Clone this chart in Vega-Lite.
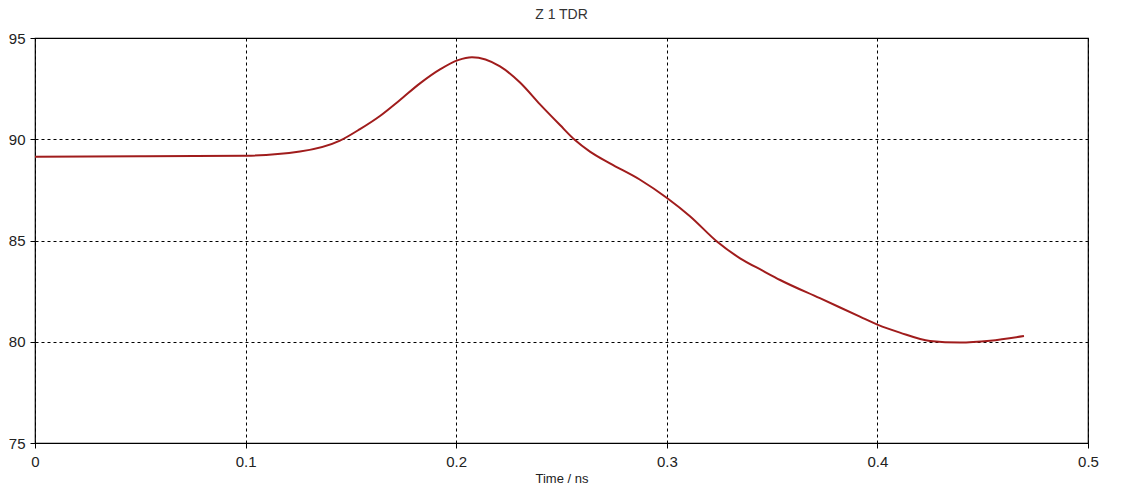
{
  "$schema": "https://vega.github.io/schema/vega-lite/v6.json",
  "autosize": {"type": "none"},
  "width": 1053,
  "height": 405,
  "padding": {"left": 35, "top": 38, "right": 33, "bottom": 43},
  "background": "white",
  "title": {"text": "Z 1 TDR", "fontSize": 14, "font": "Liberation Sans", "fontWeight": "normal", "color": "#333333", "offset": 9, "anchor": "middle"},
  "config": {
    "view": {"stroke": "black", "strokeWidth": 1.2},
    "axis": {"labelFont": "Liberation Sans", "labelFontSize": 15, "labelColor": "#222222", "titleFont": "Liberation Sans", "titleFontSize": 13, "titleFontWeight": "normal", "titleColor": "#222222", "grid": true, "gridColor": "black", "gridDash": [3, 3], "gridWidth": 1, "gridOpacity": 1, "domain": false, "tickColor": "black", "tickSize": 5, "labelPadding": 4}
  },
  "data": {"values": [
    {"t": 0.0, "z": 89.13},
    {"t": 0.05, "z": 89.16},
    {"t": 0.1002, "z": 89.19},
    {"t": 0.1258, "z": 89.39},
    {"t": 0.1448, "z": 89.93},
    {"t": 0.1543, "z": 90.5},
    {"t": 0.1638, "z": 91.15},
    {"t": 0.1733, "z": 91.94},
    {"t": 0.1828, "z": 92.76},
    {"t": 0.1923, "z": 93.45},
    {"t": 0.2009, "z": 93.91},
    {"t": 0.2075, "z": 94.05},
    {"t": 0.2208, "z": 93.6},
    {"t": 0.2303, "z": 92.8},
    {"t": 0.2398, "z": 91.72},
    {"t": 0.2493, "z": 90.7},
    {"t": 0.2564, "z": 89.96},
    {"t": 0.2635, "z": 89.39},
    {"t": 0.273, "z": 88.81},
    {"t": 0.2873, "z": 88.0},
    {"t": 0.3001, "z": 87.1},
    {"t": 0.311, "z": 86.2},
    {"t": 0.3238, "z": 84.95},
    {"t": 0.3348, "z": 84.12},
    {"t": 0.3457, "z": 83.5},
    {"t": 0.3538, "z": 83.05},
    {"t": 0.3727, "z": 82.15},
    {"t": 0.3917, "z": 81.24},
    {"t": 0.4003, "z": 80.83},
    {"t": 0.4107, "z": 80.45},
    {"t": 0.425, "z": 80.04},
    {"t": 0.4392, "z": 79.96},
    {"t": 0.4535, "z": 80.05},
    {"t": 0.4696, "z": 80.28}
  ]},
  "mark": {"type": "line", "color": "#a01c1c", "strokeWidth": 2, "interpolate": "monotone"},
  "encoding": {
    "x": {"field": "t", "type": "quantitative", "scale": {"domain": [0, 0.5], "nice": false}, "axis": {"title": "Time / ns", "values": [0, 0.1, 0.2, 0.3, 0.4, 0.5], "format": "~g", "labelPadding": 6, "titlePadding": 3, "labelFlush": false}},
    "y": {"field": "z", "type": "quantitative", "scale": {"domain": [75, 95], "nice": false, "zero": false}, "axis": {"title": null, "values": [75, 80, 85, 90, 95], "labelPadding": 5}}
  }
}
